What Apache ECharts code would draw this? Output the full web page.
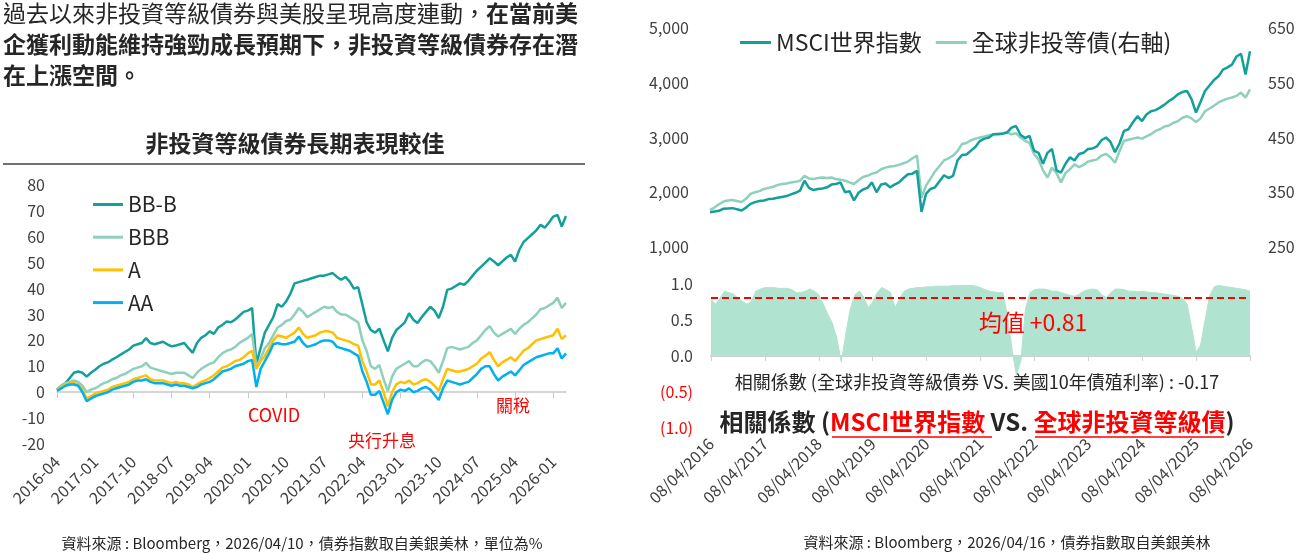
<!DOCTYPE html>
<html>
<head>
<meta charset="utf-8">
<script src="https://cdn.jsdelivr.net/npm/echarts@6/dist/echarts.min.js"></script>
<style>
html,body{margin:0;padding:0;background:#fff;}
#c{width:1300px;height:553px;}
</style>
</head>
<body>
<div id="c"></div>
<script>
// ---------- categories ----------
const months = [];
for (let y = 2016, m = 4; months.length < 121;) {
  months.push(y + '-' + String(m).padStart(2, '0'));
  m++; if (m > 12) { m = 1; y++; }
}
const rightTicks = ['08/04/2016','08/04/2017','08/04/2018','08/04/2019','08/04/2020','08/04/2021','08/04/2022','08/04/2023','08/04/2024','08/04/2025','08/04/2026'];

// ---------- left chart series (%) ----------
const bbB = [
  1.0, 2.5, 3.5, 5.5, 7.5, 8.0, 7.5, 6.0, 7.5,
  8.7, 10.0, 11.0, 11.5, 12.6, 13.5, 14.5, 15.5, 16.5, 18.0, 18.5, 19.0,
  20.9, 19.0, 18.5, 19.0, 19.5, 18.5, 17.7, 18.0, 18.5, 19.0, 17.0, 15.2,
  19.0, 21.0, 22.0, 23.5, 22.5, 25.0, 26.0, 27.3, 27.0, 28.0, 29.5, 31.0,
  31.5, 32.5, 11.0, 17.0, 23.0, 26.0, 29.0, 34.0, 33.0, 35.0, 38.0, 42.0,
  42.5, 43.0, 43.4, 44.0, 44.5, 45.0, 45.0, 45.5, 46.0, 44.5, 43.4, 44.5,
  42.7, 40.0, 40.5, 33.8, 27.0, 24.0, 23.0, 24.5, 20.0, 15.8, 21.0, 24.0,
  25.4, 27.0, 30.5, 28.0, 26.7, 29.0, 31.0, 33.0, 31.5, 28.6, 33.0, 39.5,
  40.0, 41.0, 42.0, 41.5, 43.0, 45.0, 47.0, 48.5, 50.0, 51.7, 50.5, 49.0,
  50.5, 52.0, 53.0, 50.4, 55.0, 58.0, 59.5, 61.0, 62.5, 64.6, 63.5, 65.5,
  67.8, 68.4, 64.0, 68.0
];
const bbb = [
  1.0, 2.5, 3.5, 4.0, 4.5, 4.0, 2.5, 0.0, 1.0,
  1.5, 2.5, 3.5, 4.0, 5.0, 5.5, 6.5, 7.0, 8.0, 9.0, 9.5, 10.0,
  11.3, 9.5, 9.0, 8.5, 8.0, 7.5, 7.0, 7.5, 7.5, 7.5, 6.5, 5.5,
  7.5, 9.0, 10.0, 11.0, 11.5, 13.5, 15.0, 16.0, 16.5, 17.5, 19.0, 20.0,
  21.0, 22.5, 10.0, 13.0, 17.0, 19.0, 22.0, 25.0, 26.0, 27.5, 28.0, 30.0,
  32.5, 31.0, 29.0, 30.0, 31.0, 32.0, 33.0, 32.5, 33.0, 31.0, 30.0, 30.0,
  29.0, 28.0, 27.0, 20.0, 16.0, 10.0, 9.0, 10.5, 5.0, 0.5, 6.0, 9.0,
  10.0, 11.0, 12.0, 10.0, 10.0, 11.5, 12.5, 12.0, 10.0, 7.5, 12.0, 17.0,
  17.5, 17.0, 16.5, 17.0, 17.5, 19.0, 20.0, 22.0, 24.0, 25.5, 23.0, 21.5,
  22.5, 23.5, 24.5, 22.5, 24.5, 26.0, 27.0, 28.5, 30.0, 32.0, 32.5, 33.5,
  34.5, 36.5, 32.5, 34.5
];
const aGrade = [
  1.0, 2.0, 3.0, 3.5, 3.5, 3.0, 1.0, -2.5, -1.5,
  -0.5, 0.0, 0.5, 1.0, 2.0, 2.5, 3.0, 3.5, 4.0, 5.0, 5.5, 6.0,
  6.5, 5.0, 4.5, 4.5, 4.5, 4.0, 3.5, 4.0, 3.5, 3.5, 3.0, 2.0,
  3.0, 4.0, 4.5, 5.5, 6.5, 8.0, 9.5, 10.0, 11.0, 12.0, 12.5, 13.5,
  15.0, 16.0, 9.0, 12.0, 14.0, 17.0, 20.0, 22.0, 21.5, 21.0, 22.0, 23.0,
  25.0, 22.5, 21.0, 21.5, 22.0, 23.0, 23.5, 23.5, 23.0, 21.0, 20.5, 20.0,
  19.5, 18.5, 18.0, 12.0, 8.0, 3.0, 3.0, 4.5, 0.0, -5.5, 0.0, 3.0,
  4.0, 3.5, 4.5, 3.0, 3.5, 4.5, 5.0, 4.0, 2.5, 0.5, 5.0, 9.0,
  8.5, 8.0, 8.0, 8.5, 9.0, 10.0, 11.0, 13.0, 14.0, 15.5, 12.5, 10.0,
  11.5, 12.5, 13.5, 12.0, 14.0, 16.0, 17.0, 18.5, 20.0, 20.5, 21.0, 21.5,
  22.0, 24.5, 20.5, 22.0
];
const aaGrade = [
  0.5, 1.5, 2.5, 3.0, 3.0, 2.5, 0.0, -3.5, -2.5,
  -1.5, -1.0, -0.5, 0.0, 1.0, 1.5, 2.0, 2.5, 3.0, 4.0, 4.5, 4.5,
  5.0, 4.0, 3.5, 3.5, 3.5, 3.0, 2.5, 3.0, 2.5, 2.5, 2.0, 1.5,
  2.0, 3.0, 3.5, 4.0, 5.0, 6.5, 8.0, 8.5, 9.0, 10.0, 10.5, 11.0,
  12.0, 12.5, 2.0, 9.0, 12.0, 15.0, 18.5, 19.0, 18.5, 18.5, 19.0, 19.5,
  21.5, 19.0, 17.5, 18.0, 18.5, 19.5, 20.0, 20.0, 19.5, 17.5, 17.0, 16.5,
  16.0, 15.0, 14.0, 8.0, 4.0, -1.0, -1.0, 0.5, -4.0, -8.5, -3.0, 0.0,
  1.0, 0.5, 1.5, 0.0, 0.5, 1.5, 2.0, 1.0, -1.0, -3.0, 1.5, 4.5,
  4.0, 3.5, 3.0, 3.5, 4.0, 5.5, 7.0, 9.0, 10.0, 10.0, 7.0, 4.5,
  6.0, 7.0, 8.0, 6.5, 8.5, 10.5, 11.5, 12.5, 13.5, 14.0, 14.5, 15.0,
  15.0, 17.0, 13.0, 15.0
];

// ---------- right chart series ----------
const msci = [
  1636, 1650, 1660, 1700, 1705, 1710, 1690, 1667, 1720,
  1788, 1820, 1840, 1850, 1875, 1880, 1900, 1915, 1930, 1960, 1990, 2030,
  2210, 2080, 2040, 2060, 2070, 2090, 2140, 2150, 2180, 2000, 2020, 1850,
  1990, 2050, 2080, 2180, 2000, 2140, 2160, 2090, 2140, 2180, 2260, 2330,
  2340, 2390, 1640, 1970, 2060, 2090, 2200, 2310, 2260, 2300, 2580, 2680,
  2690, 2760, 2830, 2940, 2980, 3000, 3060, 3060, 3070, 3090, 3180, 3210,
  3050, 2990, 3030, 2760, 2720, 2520, 2720, 2790, 2400, 2360, 2520, 2640,
  2580, 2700, 2720, 2790, 2800, 2840, 2950, 3000, 2920, 2730, 2890, 3120,
  3150, 3280, 3390, 3300, 3420, 3480, 3500, 3545, 3600, 3667, 3720, 3790,
  3830, 3850, 3700, 3455, 3650, 3850, 3950, 4050, 4120, 4240, 4280, 4330,
  4480, 4530, 4150, 4575
];
const hyBond = [
  318, 322, 328, 333, 335, 336, 334, 332, 338,
  347, 350, 352, 356, 358, 360, 363, 365, 366, 368, 369, 371,
  380, 375, 374, 376, 377, 376, 377, 374, 373, 371, 368, 365,
  372, 378, 380, 384, 386, 392, 395, 397, 398, 400, 403, 406,
  412, 417, 340, 362, 375, 388, 398, 408, 412, 417, 425, 438,
  440, 445, 448, 450, 452, 454, 456, 457, 458, 459, 456, 458,
  450, 444, 440, 420, 410, 390, 377, 395, 385, 368, 385, 392,
  401, 396, 400, 406, 408, 410, 417, 420, 414, 404, 425, 444,
  446, 448, 450, 448, 452, 456, 462, 465, 470, 472, 477, 480,
  486, 489, 485, 478, 485, 498, 503, 508, 514, 518, 521, 523,
  526, 532, 523, 538
];
const corr = [
  0.79, 0.72, 0.80, 0.90, 0.88, 0.86, 0.80, 0.76, 0.72,
  0.76, 0.90, 0.93, 0.95, 0.95, 0.95, 0.94, 0.94, 0.94, 0.92, 0.88, 0.88,
  0.90, 0.93, 0.90, 0.85, 0.72, 0.58, 0.46, 0.25, -0.08, 0.30, 0.65, 0.85,
  0.90, 0.82, 0.67, 0.75, 0.88, 0.95, 0.92, 0.88, 0.67, 0.80, 0.90, 0.93,
  0.94, 0.95, 0.95, 0.96, 0.96, 0.97, 0.97, 0.97, 0.97, 0.98, 0.98, 0.98,
  0.98, 0.98, 0.97, 0.95, 0.92, 0.90, 0.89, 0.88, 0.88, 0.55, 0.10, -0.27,
  -0.06, 0.65, 0.88, 0.92, 0.93, 0.93, 0.92, 0.90, 0.90, 0.88, 0.86, 0.84,
  0.83, 0.86, 0.90, 0.92, 0.93, 0.92, 0.85, 0.81, 0.88, 0.93, 0.93, 0.92,
  0.90, 0.90, 0.89, 0.90, 0.89, 0.88, 0.88, 0.87, 0.86, 0.85, 0.84, 0.83,
  0.80, 0.72, 0.40, 0.05, 0.15, 0.50, 0.83, 0.96, 0.98, 0.97, 0.96, 0.95,
  0.94, 0.93, 0.92, 0.90
];
const corrMean = 0.81;

const FONT = "'Noto Sans CJK TC', 'Noto Sans', sans-serif";
const TXT = '#262626';
const AXT = '#404040';
const RED = '#ff0000';

const chart = echarts.init(document.getElementById('c'), null, {renderer: 'canvas'});

function txt(x, y, text, size, color, extra) {
  return {
    type: 'text', x: x, y: y, z: 100,
    style: Object.assign({text: text, fontSize: size, fill: color, fontFamily: FONT,
      align: 'center', verticalAlign: 'middle'}, extra || {})
  };
}

const option = {
  animation: false,
  backgroundColor: '#ffffff',
  textStyle: {fontFamily: FONT},
  grid: [
    {left: 57, right: 734, top: 185, bottom: 109},
    {left: 710, right: 50, top: 28, height: 219},
    {left: 711, right: 50, top: 284, height: 144}
  ],
  legend: [
    {
      data: ['BB-B', 'BBB', 'A', 'AA'],
      orient: 'vertical', left: 93, top: 194, padding: 0,
      icon: 'rect', itemWidth: 30, itemHeight: 3, itemGap: 11.7,
      textStyle: {fontSize: 21, color: TXT, fontFamily: FONT}
    },
    {
      data: ['MSCI世界指數', '全球非投等債(右軸)'],
      left: 740, top: 31, padding: 0,
      icon: 'rect', itemWidth: 31, itemHeight: 3, itemGap: 14,
      textStyle: {fontSize: 23, color: TXT, fontFamily: FONT}
    }
  ],
  xAxis: [
    {
      gridIndex: 0, type: 'category', data: months, boundaryGap: false, position: 'bottom',
      axisLine: {onZero: true, lineStyle: {color: '#c8c8c8', width: 1.5}},
      axisTick: {show: true, interval: 8, length: 6, lineStyle: {color: '#c8c8c8'}},
      axisLabel: {show: false}, splitLine: {show: false}
    },
    {
      gridIndex: 0, type: 'category', data: months, boundaryGap: false, position: 'bottom',
      axisLine: {show: false, onZero: false}, axisTick: {show: false},
      axisLabel: {interval: 8, rotate: 45, fontSize: 16, color: AXT, margin: 15, fontFamily: FONT},
      splitLine: {show: false}
    },
    {
      gridIndex: 1, type: 'category', data: months, boundaryGap: false,
      axisLine: {show: false}, axisTick: {show: false}, axisLabel: {show: false}, splitLine: {show: false}
    },
    {
      gridIndex: 2, type: 'category', data: months, boundaryGap: false, position: 'bottom',
      axisLine: {onZero: true, lineStyle: {color: '#d0d0d0', width: 2}},
      axisTick: {show: true, interval: 11, length: 5, lineStyle: {color: '#d0d0d0'}},
      axisLabel: {show: false}, splitLine: {show: false}
    },
    {
      gridIndex: 2, type: 'category', data: months, boundaryGap: false, position: 'bottom',
      axisLine: {show: false, onZero: false}, axisTick: {show: false},
      axisLabel: {
        interval: 11, rotate: 45, fontSize: 16, color: AXT, margin: 13, fontFamily: FONT,
        formatter: (v, i) => rightTicks[Math.round(i / 12)]
      },
      splitLine: {show: false}
    }
  ],
  yAxis: [
    {
      gridIndex: 0, type: 'value', min: -20, max: 80, interval: 10,
      axisLine: {show: false}, axisTick: {show: false}, splitLine: {show: false},
      axisLabel: {fontSize: 16, color: AXT, margin: 12, fontFamily: FONT}
    },
    {
      gridIndex: 1, type: 'value', min: 1000, max: 5000, interval: 1000, position: 'left',
      axisLine: {show: false}, axisTick: {show: false}, splitLine: {show: false},
      axisLabel: {fontSize: 16, color: AXT, margin: 21, fontFamily: FONT,
        formatter: v => v.toLocaleString('en-US')}
    },
    {
      gridIndex: 1, type: 'value', min: 250, max: 650, interval: 100, position: 'right',
      axisLine: {show: false}, axisTick: {show: false}, splitLine: {show: false},
      axisLabel: {fontSize: 16, color: AXT, margin: 18, fontFamily: FONT}
    },
    {
      gridIndex: 2, type: 'value', min: -1, max: 1, interval: 0.5,
      axisLine: {show: false}, axisTick: {show: false}, splitLine: {show: false},
      axisLabel: {
        fontSize: 16, margin: 18, fontFamily: FONT,
        formatter: v => v < 0 ? '{r|(' + Math.abs(v).toFixed(1) + ')}' : '{k|' + v.toFixed(1) + '}',
        rich: {r: {color: RED, fontSize: 16, fontFamily: FONT}, k: {color: AXT, fontSize: 16, fontFamily: FONT}}
      }
    }
  ],
  series: [
    {name: 'BB-B', type: 'line', xAxisIndex: 0, yAxisIndex: 0, data: bbB, showSymbol: false,
     color: '#13a09a', lineStyle: {width: 2.5, color: '#13a09a'}},
    {name: 'BBB', type: 'line', xAxisIndex: 0, yAxisIndex: 0, data: bbb, showSymbol: false,
     color: '#8ecfbd', lineStyle: {width: 2.5, color: '#8ecfbd'}},
    {name: 'A', type: 'line', xAxisIndex: 0, yAxisIndex: 0, data: aGrade, showSymbol: false,
     color: '#ffc000', lineStyle: {width: 2.5, color: '#ffc000'}},
    {name: 'AA', type: 'line', xAxisIndex: 0, yAxisIndex: 0, data: aaGrade, showSymbol: false,
     color: '#00b0f0', lineStyle: {width: 2.5, color: '#00b0f0'}},
    {name: '全球非投等債(右軸)', type: 'line', xAxisIndex: 2, yAxisIndex: 2, data: hyBond, showSymbol: false,
     color: '#8ed0bc', lineStyle: {width: 2.5, color: '#8ed0bc'}},
    {name: 'MSCI世界指數', type: 'line', xAxisIndex: 2, yAxisIndex: 1, data: msci, showSymbol: false,
     color: '#13a09a', lineStyle: {width: 2.5, color: '#13a09a'}},
    {name: 'corr', type: 'line', xAxisIndex: 3, yAxisIndex: 3, data: corr, showSymbol: false,
     color: '#b1e3d1', lineStyle: {width: 1, color: '#b1e3d1'},
     areaStyle: {color: '#b1e3d1', opacity: 1},
     markLine: {
       silent: true, symbol: 'none', label: {show: false},
       lineStyle: {color: RED, type: [7, 4], width: 2},
       data: [{yAxis: corrMean}]
     }}
  ],
  graphic: [
    {
      type: 'text', left: 3, top: 2, z: 100,
      style: {
        text: '{n|過去以來非投資等級債券與美股呈現高度連動，}{b|在當前美}\n{b|企獲利動能維持強勁成長預期下，非投資等級債券存在潛}\n{b|在上漲空間。}',
        rich: {
          n: {fontSize: 23, lineHeight: 31, fontWeight: 'normal', fill: TXT, fontFamily: FONT},
          b: {fontSize: 23, lineHeight: 31, fontWeight: 'bold', fill: TXT, fontFamily: FONT}
        }
      }
    },
    txt(295, 143, '非投資等級債券長期表現較佳', 23, TXT, {fontWeight: 'bold'}),
    {type: 'line', z: 100, shape: {x1: 3, y1: 164, x2: 585, y2: 164}, style: {stroke: '#404040', lineWidth: 1.5}},
    txt(274, 415, 'COVID', 18, RED),
    txt(382, 441, '央行升息', 17, RED),
    txt(513, 406, '關稅', 17, RED),
    txt(302, 543, '資料來源 : Bloomberg，2026/04/10，債券指數取自美銀美林，單位為%', 15, TXT),
    txt(1007, 542, '資料來源 : Bloomberg，2026/04/16，債券指數取自美銀美林', 15, TXT),
    txt(1033, 322, '均值 +0.81', 23, RED),
    txt(977, 382, '相關係數 (全球非投資等級債券 VS. 美國10年債殖利率) : -0.17', 18, TXT),
    {
      type: 'text', x: 977, y: 422, z: 100,
      style: {
        text: '{k|相關係數 (}{r|MSCI世界指數}{k| VS. }{r|全球非投資等級債}{k|)}',
        align: 'center', verticalAlign: 'middle',
        rich: {
          k: {fontSize: 24, fontWeight: 'bold', fill: TXT, fontFamily: FONT},
          r: {fontSize: 24, fontWeight: 'bold', fill: RED, fontFamily: FONT}
        }
      }
    },
    {type: 'line', z: 100, shape: {x1: 832, y1: 437, x2: 992, y2: 437}, style: {stroke: RED, lineWidth: 1.5}},
    {type: 'line', z: 100, shape: {x1: 1035, y1: 437, x2: 1224, y2: 437}, style: {stroke: RED, lineWidth: 1.5}}
  ]
};
chart.setOption(option);
</script>
</body>
</html>
